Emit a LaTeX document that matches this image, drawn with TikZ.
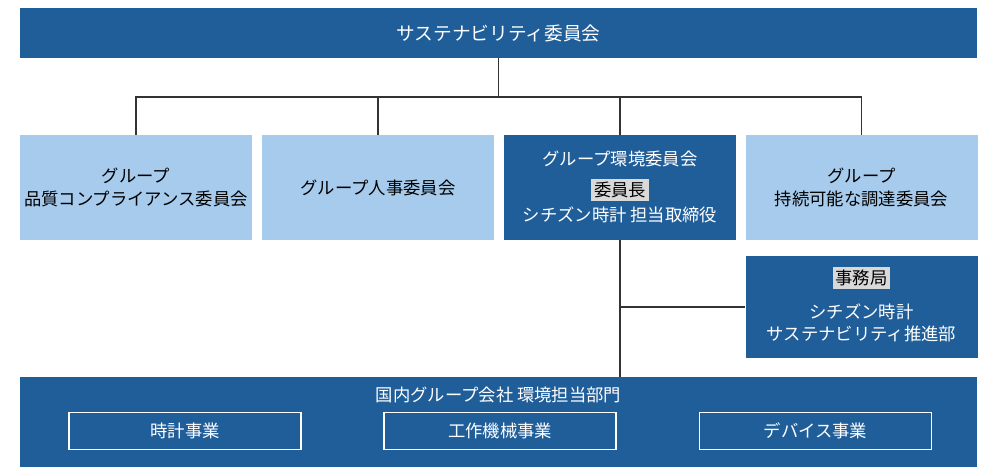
\documentclass[tikz,border=0pt]{standalone}
\usepackage{fontspec}
\setmainfont{Noto Sans CJK JP}
\usetikzlibrary{positioning}
\definecolor{darkblue}{HTML}{205E99}
\definecolor{lightblue}{HTML}{A7CBEC}
\definecolor{tagbg}{HTML}{D9D9D9}
\definecolor{linegray}{HTML}{333333}
\tikzset{
  darkbox/.style={fill=darkblue, text=white, inner sep=0pt, align=center, font=\fontsize{13}{17}\selectfont},
  lightbox/.style={fill=lightblue, text=black, inner sep=0pt, align=center, font=\fontsize{13}{17}\selectfont},
  plaintext/.style={text=white, inner sep=0pt, align=center, font=\fontsize{13}{17}\selectfont},
  unitbox/.style={draw=white, line width=1pt, text=white, inner sep=0pt, minimum width=174pt, minimum height=28pt, font=\fontsize{13}{15}\selectfont},
  tag/.style={fill=tagbg, text=black, inner sep=2pt, font=\fontsize{13}{15}\selectfont},
  link/.style={draw=linegray, line width=0.8pt}
}
\begin{document}
\begin{tikzpicture}[x=0.75pt,y=-0.75pt]
  \useasboundingbox (0,0) rectangle (1000,474);
  % Top committee
  \node[darkbox, minimum width=717.75pt, minimum height=37.5pt, font=\fontsize{14}{17}\selectfont] (top) at (498.5,33) {サステナビリティ委員会};
  % Committees
  \node[lightbox, minimum width=174pt, minimum height=78.75pt] (comp) at (136,187.5) {グループ\\品質コンプライアンス委員会};
  \node[lightbox, minimum width=174pt, minimum height=78.75pt] (hr) at (378,187.5) {グループ人事委員会};
  \node[darkbox, minimum width=174pt, minimum height=78.75pt] (env) at (620,187.5) {};
  \node[plaintext] (envtitle) at (620,159) {グループ環境委員会};
  \node[tag] (envtag) at (620,190) {委員長};
  \node[plaintext] (envchair) at (620,215) {シチズン時計 担当取締役};
  \node[lightbox, minimum width=174pt, minimum height=78.75pt] (proc) at (861.5,187.5) {グループ\\持続可能な調達委員会};
  % Secretariat
  \node[darkbox, minimum width=174pt, minimum height=76.5pt] (sec) at (861.5,307) {};
  \node[tag] (sectag) at (861.5,278) {事務局};
  \node[plaintext] (secname) at (861.5,323) {シチズン時計\\サステナビリティ推進部};
  % Group companies
  \node[darkbox, minimum width=717.75pt, minimum height=67.5pt] (grp) at (498.5,422) {};
  \node[plaintext] (grptitle) at (498.5,395) {国内グループ会社 環境担当部門};
  \node[unitbox] (watch) at (185,431) {時計事業};
  \node[unitbox] (tool) at (500,431) {工作機械事業};
  \node[unitbox] (device) at (815.5,431) {デバイス事業};
  % Connectors
  \coordinate (bus) at (498.5,97);
  \draw[link] (top.south) -- (bus);
  \draw[link] (comp.north) |- (bus) -| (proc.north);
  \draw[link] (hr.north) -- (hr.north |- bus);
  \draw[link] (env.north) -- (env.north |- bus);
  \draw[link] (env.south) -- (env.south |- grp.north);
  \draw[link] (env.south |- sec.west) -- (sec.west);
\end{tikzpicture}
\end{document}
